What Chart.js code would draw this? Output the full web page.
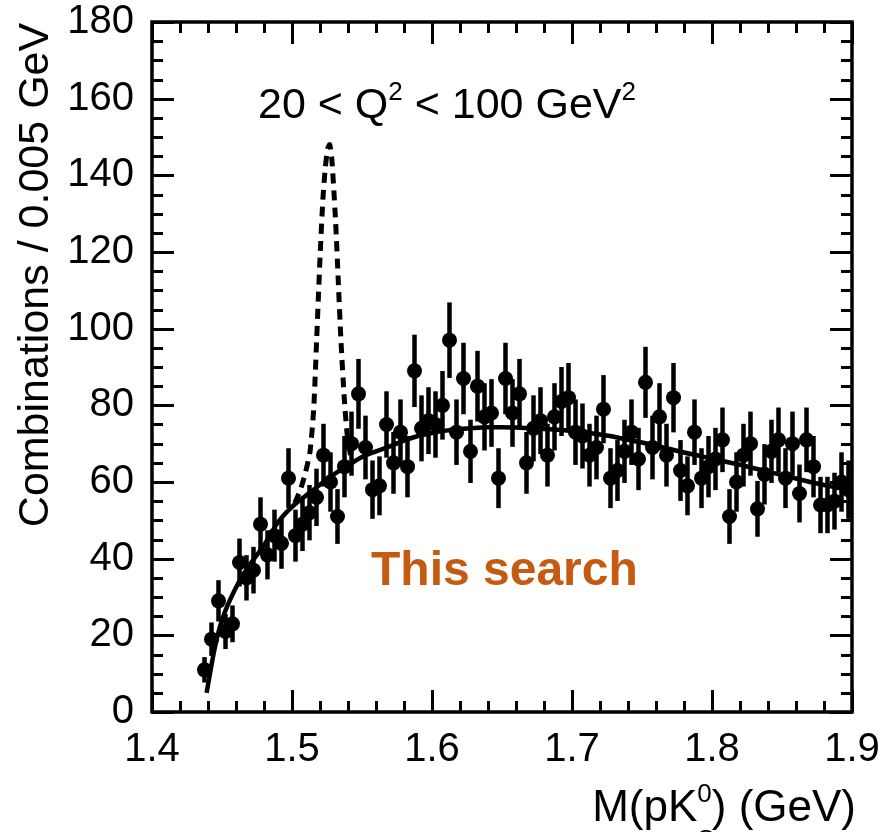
<!DOCTYPE html>
<html>
<head>
<meta charset="utf-8">
<script src="https://cdn.jsdelivr.net/npm/chart.js@4.4.1/dist/chart.umd.min.js"></script>
<style>
  body { margin: 0; background: #fff; }
</style>
</head>
<body>
<canvas id="c" width="885" height="832"></canvas>
<script>

// bin centres (GeV), 0.005 GeV wide
const massBins = [1.4375, 1.4425, 1.4475, 1.4525, 1.4575, 1.4625, 1.4675, 1.4725, 1.4775, 1.4825,
  1.4875, 1.4925, 1.4975, 1.5025, 1.5075, 1.5125, 1.5175, 1.5225, 1.5275, 1.5325,
  1.5375, 1.5425, 1.5475, 1.5525, 1.5575, 1.5625, 1.5675, 1.5725, 1.5775, 1.5825,
  1.5875, 1.5925, 1.5975, 1.6025, 1.6075, 1.6125, 1.6175, 1.6225, 1.6275, 1.6325,
  1.6375, 1.6425, 1.6475, 1.6525, 1.6575, 1.6625, 1.6675, 1.6725, 1.6775, 1.6825,
  1.6875, 1.6925, 1.6975, 1.7025, 1.7075, 1.7125, 1.7175, 1.7225, 1.7275, 1.7325,
  1.7375, 1.7425, 1.7475, 1.7525, 1.7575, 1.7625, 1.7675, 1.7725, 1.7775, 1.7825,
  1.7875, 1.7925, 1.7975, 1.8025, 1.8075, 1.8125, 1.8175, 1.8225, 1.8275, 1.8325,
  1.8375, 1.8425, 1.8475, 1.8525, 1.8575, 1.8625, 1.8675, 1.8725, 1.8775, 1.8825,
  1.8875, 1.8925, 1.8975];

// combinations per bin
const counts = [11, 19, 29, 21, 23, 39, 35, 37, 49, 41,
  46, 44, 61, 46, 49, 52, 56, 67, 60, 51,
  64, 70, 83, 69, 58, 59, 75, 65, 73, 64,
  89, 74, 76, 75, 80, 97, 73, 87, 68, 85,
  77, 78, 61, 87, 78, 83, 65, 74, 76, 67,
  77, 81, 82, 73, 72, 67, 69, 79, 61, 63,
  68, 73, 66, 86, 69, 77, 67, 82, 63, 59,
  73, 61, 64, 66, 71, 51, 60, 67, 70, 53,
  62, 68, 71, 61, 70, 57, 71, 64, 54, 54,
  55, 60, 58];

// background fit (solid)
const fitMass = [1.439, 1.445, 1.45, 1.46, 1.47, 1.48, 1.49, 1.50, 1.51, 1.52, 1.53, 1.54, 1.55,
  1.56, 1.57, 1.58, 1.59, 1.60, 1.61, 1.62, 1.63, 1.64, 1.65, 1.66, 1.67, 1.68, 1.69,
  1.70, 1.71, 1.72, 1.73, 1.74, 1.75, 1.76, 1.77, 1.78, 1.79, 1.80, 1.81, 1.82, 1.83,
  1.84, 1.85, 1.86, 1.87, 1.88, 1.89, 1.90];
const fitValues = [5, 17, 24, 32.5, 38.5, 43.5, 49.5, 53.5, 56.5, 59.3, 62, 64.3, 66.5,
  68, 69.3, 70.8, 72, 72.8, 73.4, 73.8, 74.1, 74.3, 74.3, 74.2, 74, 73.8, 73.6,
  73.3, 72.9, 72.4, 71.8, 71, 70.3, 69.5, 68.6, 67.7, 66.9, 66.1, 65.3, 64.5, 63.6,
  62.7, 61.8, 60.9, 60, 59.2, 58.5, 57.8];

// fit with the narrow peak (dashed)
const peakMass = [1.502, 1.506, 1.5093, 1.5129, 1.5155, 1.5176, 1.52, 1.5221, 1.5238, 1.5255, 1.527,
  1.5286, 1.5312, 1.5331, 1.535, 1.5374, 1.5398, 1.543];
const peakValues = [54.5, 58, 62, 68, 79, 97, 118.5, 134, 142, 147, 148,
  143.5, 127.6, 112, 96.6, 81.5, 71, 65];

// axis ticks
const xMajor = [1.4, 1.5, 1.6, 1.7, 1.8, 1.9];
const yMajor = [0, 20, 40, 60, 80, 100, 120, 140, 160, 180];

const FONT = "'Liberation Sans', Arial, sans-serif";

var pts = [];
for (var i = 0; i < massBins.length; i++) pts.push({ x: massBins[i], y: counts[i] });
var fitPts = [];
for (var i = 0; i < fitMass.length; i++) fitPts.push({ x: fitMass[i], y: fitValues[i] });
var peakPts = [];
for (var i = 0; i < peakMass.length; i++) peakPts.push({ x: peakMass[i], y: peakValues[i] });

// draws the pieces that chart.js doesn't: error bars, frame with inside ticks, labels
const framePlugin = {
  id: "frame",
  beforeDatasetsDraw(chart) {
    var c = chart.ctx, xs = chart.scales.x, ys = chart.scales.y;
    c.save();
    c.strokeStyle = "#000";
    c.lineWidth = 4.5;
    for (var i = 0; i < counts.length; i++) {
      var err = Math.sqrt(counts[i]); // poisson error on the count
      var px = xs.getPixelForValue(massBins[i]);
      c.beginPath();
      c.moveTo(px, ys.getPixelForValue(counts[i] - err));
      c.lineTo(px, ys.getPixelForValue(counts[i] + err));
      c.stroke();
    }
    c.restore();
  },
  afterDraw(chart) {
    var c = chart.ctx, a = chart.chartArea, xs = chart.scales.x, ys = chart.scales.y;
    c.save();
    c.strokeStyle = "#000";
    c.lineWidth = 3.5;
    c.strokeRect(a.left, a.top, a.right - a.left, a.bottom - a.top);

    // x ticks: major every 0.1, minor every 0.02
    c.lineWidth = 3;
    for (var k = 0; k <= 25; k++) {
      var v = 1.4 + k * 0.02;
      var px = Math.round(xs.getPixelForValue(v)) + 0.5;
      var len = (k % 5 == 0) ? 22 : 11;
      c.beginPath();
      c.moveTo(px, a.bottom); c.lineTo(px, a.bottom - len);
      c.moveTo(px, a.top); c.lineTo(px, a.top + len);
      c.stroke();
    }
    // y ticks: major every 20, minor every 5
    for (var k = 0; k <= 36; k++) {
      var py = Math.round(ys.getPixelForValue(k * 5)) + 0.5;
      var len = (k % 4 == 0) ? 22 : 11;
      c.beginPath();
      c.moveTo(a.left, py); c.lineTo(a.left + len, py);
      c.moveTo(a.right, py); c.lineTo(a.right - len, py);
      c.stroke();
    }

    c.fillStyle = "#000";
    c.textBaseline = "alphabetic";

    // Q^2 range
    drawParts(c, 258, 118, [["20 < Q", 0], ["2", 1], [" < 100 GeV", 0], ["2", 1]], 43);

    // x title, right aligned at the frame edge
    c.font = "44px " + FONT;
    var w1 = c.measureText("M(pK").width;
    c.font = "26px " + FONT;
    var w2 = c.measureText("0").width;
    c.font = "44px " + FONT;
    var w3 = c.measureText(") (GeV)").width;
    var x0 = 856 - (w1 + w2 + w3);
    c.fillText("M(pK", x0, 821);
    c.font = "26px " + FONT;
    c.fillText("0", x0 + w1, 802);
    c.fillText("S", x0 + w1, 848);
    c.font = "44px " + FONT;
    c.fillText(") (GeV)", x0 + w1 + w2, 821);

    // y title
    c.save();
    c.translate(48, 275);
    c.rotate(-Math.PI / 2);
    c.textAlign = "center";
    c.font = "43px " + FONT;
    c.fillText("Combinations / 0.005 GeV", 0, 0);
    c.restore();

    c.fillStyle = "#c55a11";
    c.font = "bold 48px " + FONT;
    c.fillText("This search", 371, 585);
    c.restore();
  }
};

// text with superscripts, parts = [[text, isSup], ...]
function drawParts(c, x, y, parts, size) {
  for (var i = 0; i < parts.length; i++) {
    var sup = parts[i][1];
    c.font = (sup ? Math.round(size * 0.6) : size) + "px " + FONT;
    c.fillText(parts[i][0], x, sup ? y - 18 : y);
    x += c.measureText(parts[i][0]).width;
  }
}

var ctx = document.getElementById("c").getContext("2d");
new Chart(ctx, {
  type: "scatter",
  data: {
    datasets: [
      { label: "data", data: pts, pointRadius: 7.5, pointHoverRadius: 7.5,
        backgroundColor: "#000", borderWidth: 0, order: 2 },
      { type: "line", label: "fit", data: fitPts, borderColor: "#000", borderWidth: 4.5,
        pointRadius: 0, tension: 0.4, cubicInterpolationMode: "monotone", fill: false, order: 1 },
      { type: "line", label: "peak", data: peakPts, borderColor: "#000", borderWidth: 5,
        borderDash: [10, 7], pointRadius: 0, tension: 0.2, fill: false, order: 1 }
    ]
  },
  options: {
    responsive: false,
    animation: false,
    events: [],
    layout: { padding: { top: 22, right: 33, left: 0, bottom: 0 } },
    plugins: { legend: { display: false }, tooltip: { enabled: false } },
    scales: {
      x: {
        type: "linear", min: 1.4, max: 1.9,
        grid: { display: false, drawTicks: false },
        border: { display: false },
        afterBuildTicks: function (s) { s.ticks = xMajor.map(v => ({ value: v })); },
        ticks: { padding: 14, color: "#000", font: { family: FONT, size: 40 },
          callback: v => Number(v).toFixed(1) },
        afterFit: function (s) { s.height = 120; s.paddingLeft = 0; s.paddingRight = 0; }
      },
      y: {
        type: "linear", min: 0, max: 180,
        grid: { display: false, drawTicks: false },
        border: { display: false },
        afterBuildTicks: function (s) { s.ticks = yMajor.map(v => ({ value: v })); },
        ticks: { padding: 18, color: "#000", font: { family: FONT, size: 40 } },
        afterFit: function (s) { s.width = 152; s.paddingTop = 0; s.paddingBottom = 0; }
      }
    }
  },
  plugins: [framePlugin]
});

</script>
</body>
</html>
